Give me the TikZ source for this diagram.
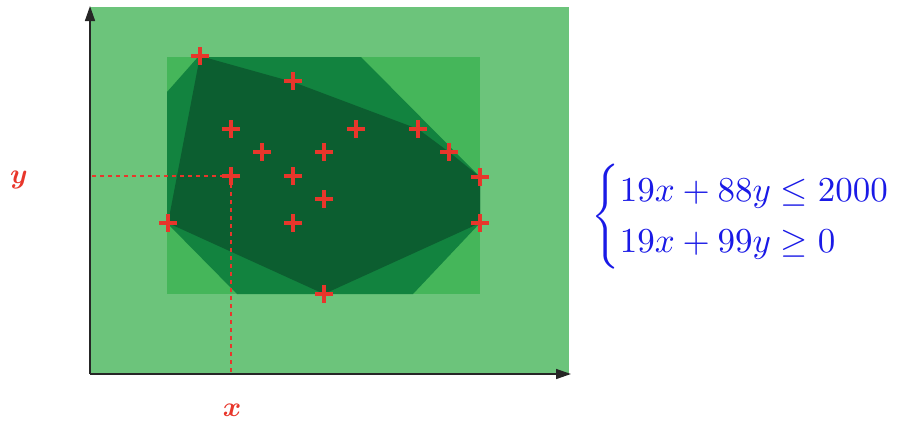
\documentclass[tikz,border=0pt]{standalone}
\usepackage{amsmath}
\usepackage{bm}
\usetikzlibrary{shapes.misc,arrows.meta}
\definecolor{fieldgreen}{HTML}{6CC47B}
\definecolor{boxgreen}{HTML}{45B65A}
\definecolor{hullgreen}{HTML}{12833F}
\definecolor{coregreen}{HTML}{0C5E30}
\definecolor{ptred}{HTML}{E8362B}
\definecolor{eqblue}{HTML}{1A1AE6}

\begin{document}
\begin{tikzpicture}[
  x=1pt,y=-1pt,
  spot/.style={inner sep=0pt,minimum size=9pt},
  sample/.style={cross out,draw=ptred,line width=3.5pt,minimum size=9pt,
                 inner sep=0pt,rotate=45},
  guide/.style={ptred,line width=1.1pt,dash pattern=on 4pt off 4pt},
  axis/.style={black!85,line width=1.5pt,-{Triangle[length=15pt,width=10pt]}},
  varlabel/.style={text=ptred,scale=2.8}
]
  \useasboundingbox (0,0) rectangle (899,426);
  % regions
  \fill[fieldgreen] (90,7) rectangle (569,374);
  \fill[boxgreen] (167,57) rectangle (480,294);
  \fill[hullgreen] (167,92) -- (198,57) -- (361,57) -- (480,177) -- (480,223)
                   -- (413,294) -- (237,294) -- (167,223) -- cycle;
  \fill[coregreen] (200,56) -- (293,82) -- (418,129) -- (449,152) -- (480,177)
                   -- (480,223) -- (324,294) -- (168,223) -- cycle;
  % axes
  \coordinate (O) at (90,374);
  \coordinate (ytip) at (90,6);
  \coordinate (xtip) at (571,374);
  \coordinate (yfoot) at (92,176);
  \coordinate (xfoot) at (231,374);
  % samples
  \foreach \n/\px/\py in {1/200/56,2/293/81,3/231/129,4/262/152,5/324/152,
      6/356/129,7/418/129,8/449/152,9/480/177,10/231/176,11/293/176,
      12/324/199,13/293/223,14/168/223,15/480/223,16/324/294}
    \node[spot] (s\n) at (\px,\py) {};
  \draw[guide] (yfoot) -- (s10.center);
  \draw[guide] (s10.center) -- (xfoot);
  \draw[axis] (O) -- (ytip);
  \draw[axis] (O) -- (xtip);
  \foreach \n in {1,...,16}
    \node[sample] at (s\n) {};
  \node[varlabel] (ylab) at (19,180) {$\bm{y}$};
  \node[varlabel] (xlab) at (232,410) {$\bm{x}$};
  \node[anchor=west,inner sep=0pt,text=eqblue,scale=3.5]
       (sys) at (591,217)
       {$\begin{cases} 19x+88y\leq 2000\\ 19x+99y\geq 0\end{cases}$};
\end{tikzpicture}
\end{document}
